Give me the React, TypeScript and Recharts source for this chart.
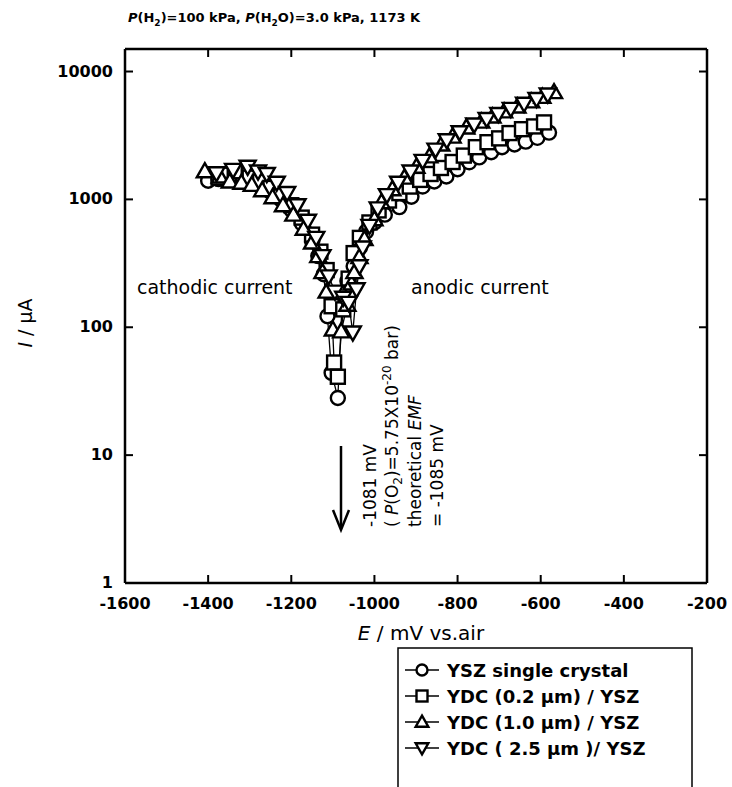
import React from 'react';
import { LineChart, Line, XAxis, YAxis } from 'recharts';

const FONT = '"DejaVu Sans", "Liberation Sans", sans-serif';

const xTicks = [-1600, -1400, -1200, -1000, -800, -600, -400, -200];
const yTicks = [1, 10, 100, 1000, 10000];

const seriesNames = ['YSZ single crystal', 'YDC (0.2 \u00b5m) / YSZ', 'YDC (1.0 \u00b5m) / YSZ', 'YDC ( 2.5 \u00b5m )/ YSZ'];
const seriesShapes = ['circle', 'square', 'up', 'down'];

// YSZ single crystal
const yszE = [-1400, -1375, -1350, -1325, -1300, -1275, -1250, -1225, -1200, -1175, -1150, -1135, -1122, -1113, -1103, -1088, -1078, -1065, -1050, -1035, -1020, -1000, -975, -940, -911, -884, -856, -827, -800, -772, -748, -719, -693, -663, -636, -608, -580];
const yszI = [1400, 1440, 1450, 1420, 1370, 1280, 1150, 1000, 830, 650, 470, 360, 260, 122, 44, 28, 150, 230, 300, 420, 560, 660, 760, 870, 1050, 1260, 1380, 1510, 1720, 1950, 2130, 2340, 2560, 2690, 2830, 3030, 3330];

// YDC 0.2 um
const ydc02E = [-1375, -1350, -1336, -1300, -1275, -1250, -1225, -1200, -1175, -1150, -1130, -1115, -1103, -1097, -1088, -1075, -1062, -1050, -1035, -1012, -990, -965, -940, -915, -890, -865, -840, -812, -785, -756, -728, -700, -675, -645, -616, -592];
const ydc02I = [1480, 1560, 1660, 1480, 1380, 1230, 1080, 900, 720, 530, 390, 280, 146, 53, 41, 138, 240, 380, 500, 660, 820, 980, 1120, 1260, 1420, 1580, 1760, 1960, 2200, 2560, 2800, 3000, 3300, 3540, 3720, 4000];

// YDC 1.0 um
const ydc10E = [-1408, -1372, -1348, -1320, -1295, -1270, -1245, -1220, -1195, -1170, -1150, -1135, -1125, -1115, -1100, -1080, -1065, -1055, -1048, -1036, -1024, -1000, -983, -957, -928, -899, -868, -839, -812, -779, -743, -716, -688, -656, -623, -596, -568];
const ydc10I = [1660, 1510, 1380, 1350, 1300, 1180, 1040, 900, 760, 590, 460, 360, 270, 190, 96, 93, 150, 220, 270, 355, 490, 700, 950, 1200, 1480, 1800, 2170, 2690, 3100, 3650, 4060, 4450, 4880, 5330, 5840, 6340, 6900];

// YDC 2.5 um
const ydc25E = [-1380, -1340, -1305, -1280, -1259, -1235, -1210, -1185, -1160, -1140, -1125, -1110, -1095, -1075, -1062, -1052, -1043, -1036, -1028, -1012, -992, -970, -943, -913, -884, -853, -826, -795, -760, -730, -702, -672, -640, -610, -583];
const ydc25I = [1600, 1700, 1800, 1650, 1580, 1350, 1120, 900, 680, 500, 360, 250, 190, 170, 155, 91, 198, 300, 420, 620, 850, 1080, 1350, 1650, 2000, 2450, 2900, 3350, 3850, 4250, 4650, 5100, 5600, 6100, 6600];

const zip = (e: number[], i: number[]) => e.map((v, k) => ({ e: v, i: i[k] }));
const seriesData = [zip(yszE, yszI), zip(ydc02E, ydc02I), zip(ydc10E, ydc10I), zip(ydc25E, ydc25I)];

function Marker({ cx, cy, kind, s = 7 }: { cx: number; cy: number; kind: string; s?: number }) {
  const common = { fill: '#fff', stroke: '#000', strokeWidth: 2.4 };
  if (kind === 'circle') return <circle cx={cx} cy={cy} r={s} {...common} />;
  if (kind === 'square') return <rect x={cx - s} y={cy - s} width={2 * s} height={2 * s} {...common} />;
  const h = s * 1.15;
  if (kind === 'up')
    return <polygon points={`${cx},${cy - h} ${cx + h},${cy + h * 0.75} ${cx - h},${cy + h * 0.75}`} {...common} />;
  return <polygon points={`${cx},${cy + h} ${cx + h},${cy - h * 0.75} ${cx - h},${cy - h * 0.75}`} {...common} />;
}

const BottomTick = (p: any) => (
  <g>
    <line x1={p.x} x2={p.x} y1={p.y} y2={p.y - 8} stroke="#000" strokeWidth={2} />
    <text x={p.x} y={p.y + 26} textAnchor="middle" fontSize={16} fontWeight="bold" fontFamily={FONT} fill="#000">
      {p.payload.value}
    </text>
  </g>
);
const TopTick = (p: any) => <line x1={p.x} x2={p.x} y1={p.y} y2={p.y + 8} stroke="#000" strokeWidth={2} />;
const LeftTick = (p: any) => (
  <g>
    <line x1={p.x} x2={p.x + 8} y1={p.y} y2={p.y} stroke="#000" strokeWidth={2} />
    <text x={p.x - 12} y={p.y + 5} textAnchor="end" fontSize={16} fontWeight="bold" fontFamily={FONT} fill="#000">
      {p.payload.value}
    </text>
  </g>
);
const RightTick = (p: any) => <line x1={p.x} x2={p.x - 8} y1={p.y} y2={p.y} stroke="#000" strokeWidth={2} />;

const frame = { stroke: '#000', strokeWidth: 2.5 };

export default function App() {
  return (
    <div style={{ position: 'absolute', left: 0, top: 0, width: 732, height: 787, overflow: 'hidden', background: '#fff' }}>
      <LineChart width={732} height={787} margin={{ top: 48, right: 24, bottom: 203, left: 124 }}>
        <XAxis dataKey="e" type="number" domain={[-1600, -200]} ticks={xTicks} interval={0} allowDataOverflow
          height={1} tickSize={0} tickMargin={0} tickLine={false} axisLine={frame} tick={<BottomTick />} />
        <XAxis xAxisId="top" orientation="top" dataKey="e" type="number" domain={[-1600, -200]} ticks={xTicks} interval={0}
          allowDataOverflow height={1} tickSize={0} tickMargin={0} tickLine={false} axisLine={frame} tick={<TopTick />} />
        <YAxis dataKey="i" type="number" scale="log" domain={[1, 15000]} ticks={yTicks} interval={0} allowDataOverflow
          width={1} tickSize={0} tickMargin={0} tickLine={false} axisLine={frame} tick={<LeftTick />} />
        <YAxis yAxisId="right" orientation="right" dataKey="i" type="number" scale="log" domain={[1, 15000]} ticks={yTicks}
          interval={0} allowDataOverflow width={1} tickSize={0} tickMargin={0} tickLine={false} axisLine={frame}
          tick={<RightTick />} />
        {seriesData.map((d, k) => (
          <Line key={seriesNames[k]} data={d} dataKey="i" name={seriesNames[k]} type="linear" stroke="#000" strokeWidth={1.3}
            isAnimationActive={false} activeDot={false}
            dot={(p: any) => <Marker key={`${k}-${p.index}`} cx={p.cx} cy={p.cy} kind={seriesShapes[k]} />} />
        ))}
      </LineChart>
      <svg width={732} height={787} style={{ position: 'absolute', left: 0, top: 0, pointerEvents: 'none' }} fontFamily={FONT}>
        <text x={128} y={22} fontSize={13} fontWeight="bold">
          <tspan fontStyle="italic">P</tspan>(H<tspan dy={4} fontSize={9}>2</tspan><tspan dy={-4}>)=100 kPa, </tspan>
          <tspan fontStyle="italic">P</tspan>(H<tspan dy={4} fontSize={9}>2</tspan><tspan dy={-4}>O)=3.0 kPa, 1173 K</tspan>
        </text>
        <text transform="translate(32,323) rotate(-90)" textAnchor="middle" fontSize={19}>
          <tspan fontStyle="italic">I</tspan> / {'\u00b5'}A
        </text>
        <text x={421} y={640} textAnchor="middle" fontSize={20}>
          <tspan fontStyle="italic">E</tspan> / mV vs.air
        </text>
        <text x={137} y={294} fontSize={19}>cathodic current</text>
        <text x={411} y={294} fontSize={19}>anodic current</text>
        <text transform="translate(376,527) rotate(-90)" fontSize={17}>-1081 mV</text>
        <text transform="translate(398,527) rotate(-90)" fontSize={17}>
          ( <tspan fontStyle="italic">P</tspan>(O<tspan dy={4} fontSize={12}>2</tspan><tspan dy={-4}>)=5.75X10</tspan>
          <tspan dy={-7} fontSize={12}>-20</tspan><tspan dy={7}> bar)</tspan>
        </text>
        <text transform="translate(421,527) rotate(-90)" fontSize={17}>
          theoretical <tspan fontStyle="italic">EMF</tspan>
        </text>
        <text transform="translate(443,527) rotate(-90)" fontSize={17}>= -1085 mV</text>
        <line x1={341} x2={341} y1={446} y2={528} stroke="#000" strokeWidth={2.5} />
        <polyline points="333,510 341,530 349,510" fill="none" stroke="#000" strokeWidth={2.5} />
        <rect x={398} y={648} width={294} height={170} fill="none" stroke="#000" strokeWidth={1.5} />
        {seriesNames.map((n, k) => {
          const y = 670 + 26 * k;
          return (
            <g key={n}>
              <line x1={405} x2={439} y1={y} y2={y} stroke="#000" strokeWidth={1.5} />
              <Marker cx={422} cy={y} kind={seriesShapes[k]} s={5.5} />
              <text x={447} y={y + 7} fontSize={18} fontWeight="bold">{n}</text>
            </g>
          );
        })}
      </svg>
    </div>
  );
}
